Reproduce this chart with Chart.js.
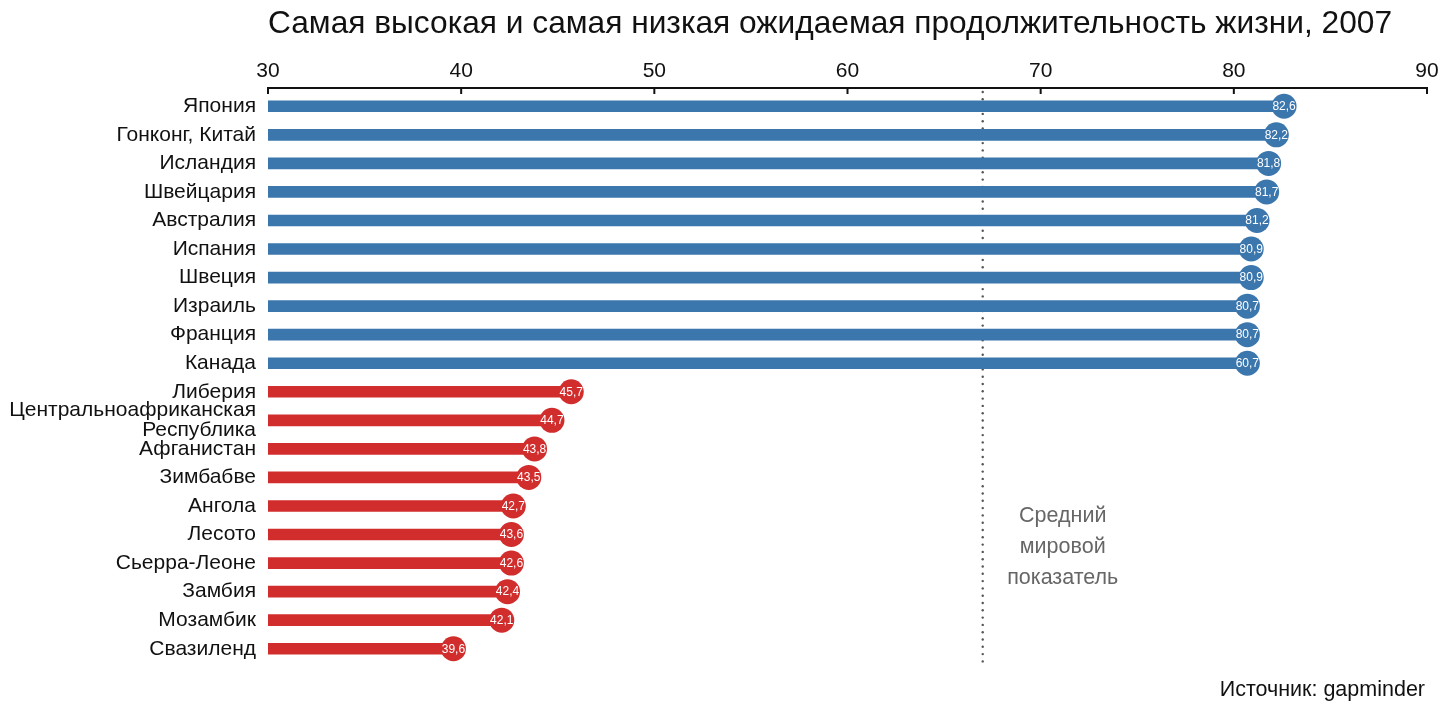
<!DOCTYPE html>
<html>
<head>
<meta charset="utf-8">
<script src="https://cdn.jsdelivr.net/npm/chart.js@4.4.1/dist/chart.umd.min.js"></script>
<style>
  html, body { margin: 0; padding: 0; background: #fff; }
  #wrap { width: 1440px; height: 720px; position: relative; }
</style>
</head>
<body>
<div id="wrap"><canvas id="chart"></canvas></div>
<script>
// Data
const countries = [
  'Япония', 'Гонконг, Китай', 'Исландия', 'Швейцария', 'Австралия',
  'Испания', 'Швеция', 'Израиль', 'Франция', 'Канада',
  'Либерия', ['Центральноафриканская', 'Республика'], 'Афганистан', 'Зимбабве', 'Ангола',
  'Лесото', 'Сьерра-Леоне', 'Замбия', 'Мозамбик', 'Свазиленд'
];
const lifeExpectancy = [
  82.6, 82.2, 81.8, 81.7, 81.2, 80.9, 80.9, 80.7, 80.7, 80.7,
  45.7, 44.7, 43.8, 43.5, 42.7, 42.6, 42.6, 42.4, 42.1, 39.6
];
// labels printed in the circles, as shown on the original
const valueLabels = [
  '82,6', '82,2', '81,8', '81,7', '81,2', '80,9', '80,9', '80,7', '80,7', '60,7',
  '45,7', '44,7', '43,8', '43,5', '42,7', '43,6', '42,6', '42,4', '42,1', '39,6'
];
const groups = ['high', 'high', 'high', 'high', 'high', 'high', 'high', 'high', 'high', 'high',
  'low', 'low', 'low', 'low', 'low', 'low', 'low', 'low', 'low', 'low'];
const worldAverage = 67.0;
const xTicks = [30, 40, 50, 60, 70, 80, 90];

const titleText = 'Самая высокая и самая низкая ожидаемая продолжительность жизни, 2007';
const avgText = ['Средний', 'мировой', 'показатель'];
const sourceText = 'Источник: gapminder';

const BLUE = '#3b76ad';
const RED = '#d22d2d';
const FONT = "'Liberation Sans', Arial, sans-serif";
const colors = groups.map(g => g === 'high' ? BLUE : RED);
const AXIS_Y = 88;

// Extra drawing: title, top axis line and ticks, average line, circle labels, notes
const decorations = {
  id: 'decorations',
  beforeDatasetsDraw(chart) {
    const { ctx, chartArea, scales: { x } } = chart;
    const ax = x.getPixelForValue(worldAverage);
    ctx.save();
    ctx.fillStyle = '#555';
    for (let y = AXIS_Y + 4; y <= chartArea.bottom + 2; y += 7.3) {
      ctx.beginPath();
      ctx.arc(ax, y, 1.2, 0, Math.PI * 2);
      ctx.fill();
    }
    ctx.restore();
  },
  afterDraw(chart) {
    const { ctx, chartArea, scales: { x } } = chart;
    ctx.save();
    // title
    ctx.fillStyle = '#111';
    ctx.font = `31.7px ${FONT}`;
    ctx.textAlign = 'left';
    ctx.textBaseline = 'middle';
    ctx.fillText(titleText, chartArea.left, 24);

    // axis line and tick marks pointing down
    ctx.strokeStyle = '#111';
    ctx.lineWidth = 2;
    ctx.beginPath();
    ctx.moveTo(x.getPixelForValue(30) - 1, AXIS_Y);
    ctx.lineTo(x.getPixelForValue(90) + 1, AXIS_Y);
    ctx.stroke();
    xTicks.forEach(v => {
      const px = x.getPixelForValue(v);
      ctx.beginPath();
      ctx.moveTo(px, AXIS_Y);
      ctx.lineTo(px, AXIS_Y + 6);
      ctx.stroke();
    });

    // circle labels
    const meta = chart.getDatasetMeta(1);
    ctx.fillStyle = '#fff';
    ctx.font = `12px ${FONT}`;
    ctx.textAlign = 'center';
    meta.data.forEach((pt, i) => {
      ctx.fillText(valueLabels[i], pt.x, pt.y + 0.5);
    });

    // average note
    const ax = x.getPixelForValue(worldAverage);
    ctx.fillStyle = '#666';
    ctx.font = `21.5px ${FONT}`;
    avgText.forEach((t, i) => ctx.fillText(t, ax + 80, 516 + i * 31));

    // source
    ctx.fillStyle = '#111';
    ctx.font = `21.5px ${FONT}`;
    ctx.textAlign = 'right';
    ctx.fillText(sourceText, 1425, 690);
    ctx.restore();
  }
};

new Chart(document.getElementById('chart'), {
  type: 'bar',
  data: {
    labels: countries,
    datasets: [
      {
        type: 'bar',
        data: lifeExpectancy,
        backgroundColor: colors,
        barThickness: 11,
        indexAxis: 'y',
        order: 2
      },
      {
        type: 'line',
        data: lifeExpectancy,
        indexAxis: 'y',
        showLine: false,
        pointRadius: 12.5,
        pointHoverRadius: 12.5,
        pointBackgroundColor: colors,
        pointBorderColor: colors,
        pointBorderWidth: 0,
        order: 1
      }
    ]
  },
  options: {
    indexAxis: 'y',
    responsive: true,
    maintainAspectRatio: false,
    animation: false,
    events: [],
    layout: { padding: { top: 52, bottom: 57, left: 0, right: 13 } },
    plugins: {
      legend: { display: false },
      tooltip: { enabled: false },
      title: { display: false }
    },
    scales: {
      x: {
        type: 'linear',
        position: 'top',
        min: 30,
        max: 90,
        afterBuildTicks: s => { s.ticks = xTicks.map(v => ({ value: v })); },
        afterFit: s => { s.height = 40; s.paddingLeft = 0; s.paddingRight = 0; },
        grid: { display: false, drawTicks: false },
        border: { display: false },
        ticks: {
          color: '#111',
          padding: 8,
          font: { family: FONT, size: 21 }
        }
      },
      y: {
        afterFit: s => { s.width = 268; },
        grid: { display: false, drawTicks: false },
        border: { display: false },
        ticks: {
          color: '#111',
          padding: 12,
          autoSkip: false,
          font: { family: FONT, size: 21, lineHeight: 0.95 }
        }
      }
    }
  },
  plugins: [decorations]
});
</script>
</body>
</html>
